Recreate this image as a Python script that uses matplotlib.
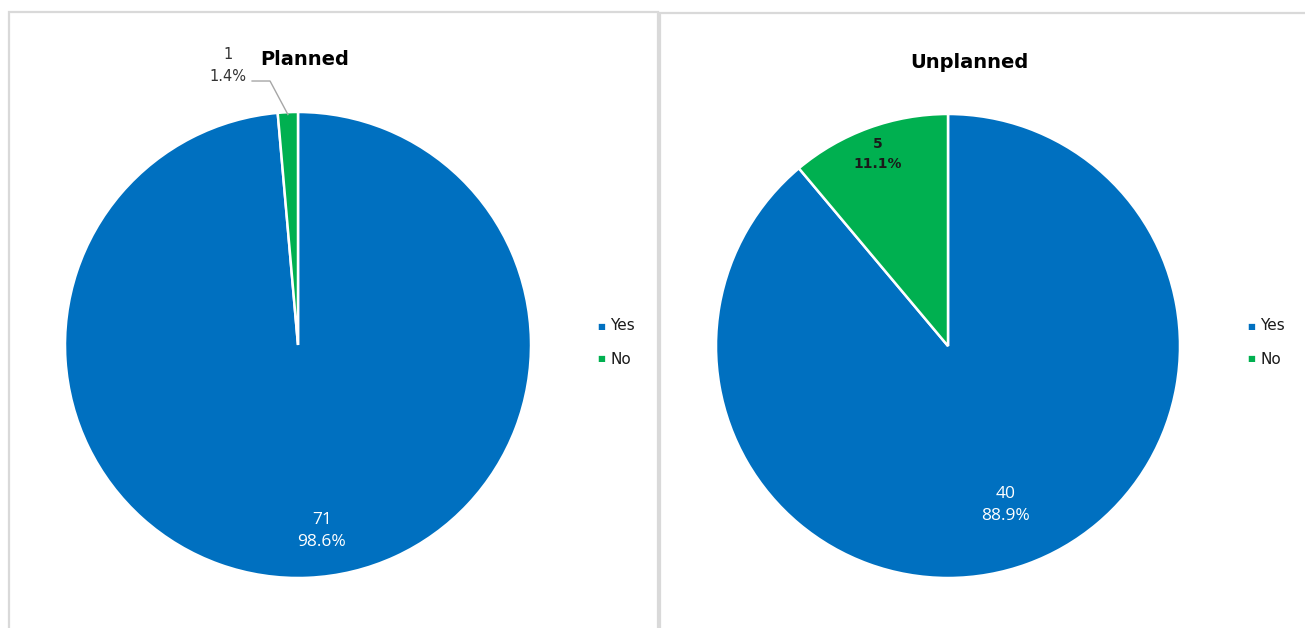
import matplotlib
matplotlib.use("Agg")
import matplotlib.pyplot as plt
from matplotlib.patches import Rectangle
import numpy as np

W, H = 1305, 628

categories = ["Yes", "No"]
planned_counts = [71, 1]
unplanned_counts = [40, 5]
colors = ["#0070C0", "#00B050"]

fig = plt.figure(figsize=(W / 100, H / 100), dpi=100)
fig.patch.set_facecolor("white")


def px_axes(x0, y0, x1, y1):
    """Axes placed by pixel box (top-left origin)."""
    return fig.add_axes([x0 / W, 1 - y1 / H, (x1 - x0) / W, (y1 - y0) / H])


# panel frames
border = "#D9D9D9"
fig.add_artist(Rectangle((9 / W, -0.1), (658 - 9) / W, 1 - 12 / H + 0.1,
                         transform=fig.transFigure, fill=False,
                         edgecolor=border, linewidth=1.6))
fig.add_artist(Rectangle((660 / W, -0.1), (1310 - 660) / W, 1 - 13 / H + 0.1,
                         transform=fig.transFigure, fill=False,
                         edgecolor=border, linewidth=1.6))


def draw_pie(ax, counts):
    ax.pie(counts, colors=colors, startangle=90, counterclock=False,
           radius=1.0, wedgeprops=dict(edgecolor="white", linewidth=1.8))
    ax.set_xlim(-1, 1)
    ax.set_ylim(-1, 1)
    ax.set_aspect("equal")
    ax.axis("off")
    total = sum(counts)
    angles = []
    start = 90.0
    for c in counts:
        span = 360.0 * c / total
        angles.append(np.deg2rad(start - span / 2))
        start -= span
    return total, angles


label_font = ["Open Sans", "DejaVu Sans"]

# Planned
ax1 = px_axes(65, 112, 531, 578)
total1, ang1 = draw_pie(ax1, planned_counts)
r = 0.805
a = ang1[0] + np.deg2rad(4.85)
ax1.text(r * np.cos(a), r * np.sin(a),
         f"{planned_counts[0]}\n{100 * planned_counts[0] / total1:.1f}%",
         ha="center", va="center", color="white", fontsize=12.5,
         family=label_font, linespacing=1.45)
# small slice label with leader line
a = ang1[1]
tip = (np.cos(a) * 0.99, np.sin(a) * 0.99)
ax1.plot([tip[0], -0.12, -0.197], [tip[1], 1.133, 1.133],
         color="#A6A6A6", lw=1.0, clip_on=False)
ax1.text(-0.30, 1.20,
         f"{planned_counts[1]}\n{100 * planned_counts[1] / total1:.1f}%",
         ha="center", va="center", color="#333333", fontsize=10.5,
         family="DejaVu Sans", linespacing=1.6)
ax1.text(0.03, 1.225, "Planned", ha="center", va="center", fontsize=14,
         fontweight="bold", family="DejaVu Sans", color="black")

# Unplanned
ax2 = px_axes(716, 114, 1180, 578)
total2, ang2 = draw_pie(ax2, unplanned_counts)
r = 0.73
a = ang2[0]
ax2.text(r * np.cos(a), r * np.sin(a),
         f"{unplanned_counts[0]}\n{100 * unplanned_counts[0] / total2:.1f}%",
         ha="center", va="center", color="white", fontsize=12.5,
         family=label_font, linespacing=1.45)
r = 0.88
a = ang2[1]
ax2.text(r * np.cos(a), r * np.sin(a),
         f"{unplanned_counts[1]}\n{100 * unplanned_counts[1] / total2:.1f}%",
         ha="center", va="center", color="#1a1a1a", fontsize=10,
         family="DejaVu Sans", fontweight="bold", linespacing=1.55)
ax2.text(0.09, 1.22, "Unplanned", ha="center", va="center", fontsize=14,
         fontweight="bold", family="DejaVu Sans", color="black")

# legends
for x_marker in (601, 1251):
    for cat, col, y in zip(categories, colors, (326, 359)):
        fig.text(x_marker / W, 1 - y / H, "\u25A0", color=col, fontsize=6,
                 ha="center", va="center", family="DejaVu Sans")
        fig.text((x_marker + 9) / W, 1 - y / H, cat, color="#1a1a1a",
                 fontsize=11, ha="left", va="center", family="DejaVu Sans")

fig.savefig("out.png", dpi=100, facecolor="white")
